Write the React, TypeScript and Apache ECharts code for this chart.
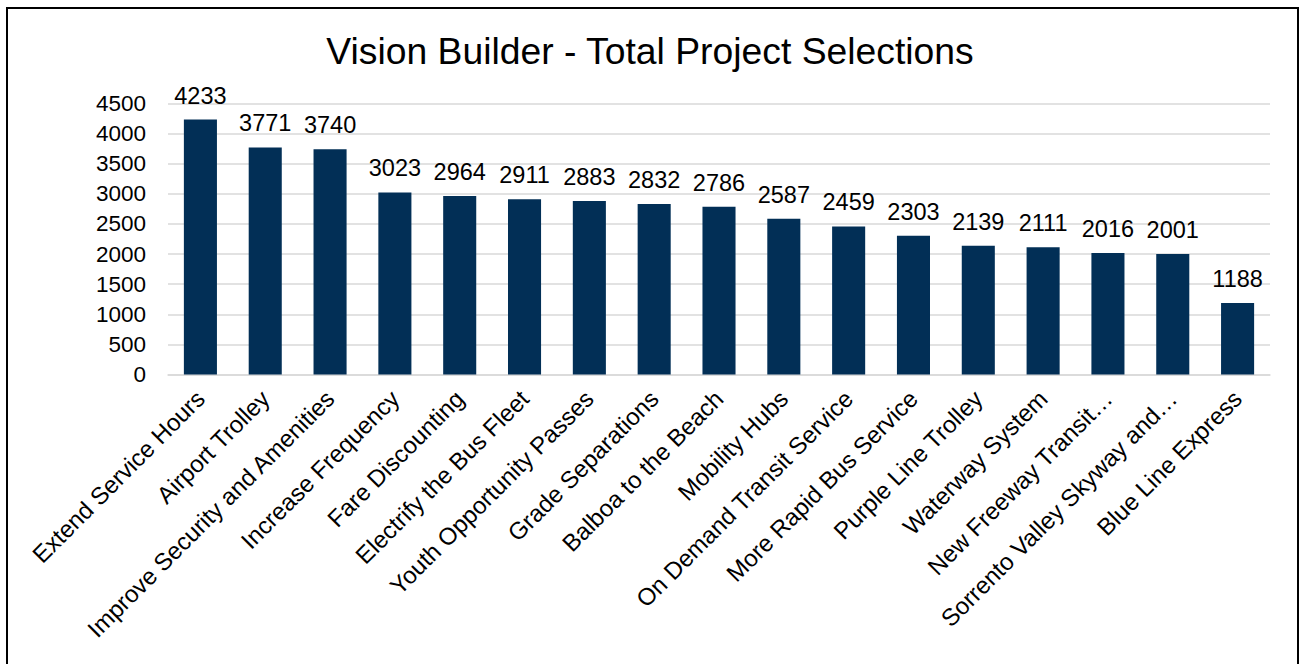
import React, { useEffect, useRef } from "react";
import * as echarts from "echarts";

const categories = [
  "Extend Service Hours",
  "Airport Trolley",
  "Improve Security and Amenities",
  "Increase Frequency",
  "Fare Discounting",
  "Electrify the Bus Fleet",
  "Youth Opportunity Passes",
  "Grade Separations",
  "Balboa to the Beach",
  "Mobility Hubs",
  "On Demand Transit Service",
  "More Rapid Bus Service",
  "Purple Line Trolley",
  "Waterway System",
  "New Freeway Transit…",
  "Sorrento Valley Skyway and…",
  "Blue Line Express",
];

const selections = [4233, 3771, 3740, 3023, 2964, 2911, 2883, 2832, 2786, 2587, 2459, 2303, 2139, 2111, 2016, 2001, 1188];

const yTicks = { min: 0, max: 4500, interval: 500 };

const FONT = "'Liberation Sans', Arial, sans-serif";

export default function App() {
  const ref = useRef<HTMLDivElement>(null);
  useEffect(() => {
    if (!ref.current) return;
    const chart = echarts.init(ref.current, undefined, { renderer: "svg" });
    chart.setOption({
      animation: false,
      backgroundColor: "#ffffff",
      title: {
        text: "Vision Builder - Total Project Selections",
        left: "center",
        top: 27,
        textStyle: { fontFamily: FONT, fontSize: 37.3, fontWeight: "normal", color: "#000000" },
      },
      graphic: [
        {
          type: "rect",
          shape: { x: 7, y: 8, width: 1291, height: 700 },
          style: { fill: "none", stroke: "#000000", lineWidth: 2 },
          silent: true,
        },
      ],
      grid: { left: 168, right: 30, top: 103.5, bottom: 289.5, containLabel: false },
      xAxis: {
        type: "category",
        data: categories,
        axisLine: { lineStyle: { color: "#d9d9d9", width: 1.5 } },
        axisTick: { show: false },
        axisLabel: {
          rotate: 45,
          interval: 0,
          margin: 20,
          fontFamily: FONT,
          fontSize: 24,
          color: "#000000",
        },
      },
      yAxis: {
        type: "value",
        min: yTicks.min,
        max: yTicks.max,
        interval: yTicks.interval,
        axisLine: { show: false },
        axisTick: { show: false },
        splitLine: { lineStyle: { color: "#d9d9d9", width: 1.5 } },
        axisLabel: {
          margin: 22,
          fontFamily: FONT,
          fontSize: 22.5,
          color: "#000000",
          formatter: (v: number) => String(v),
        },
      },
      series: [
        {
          type: "bar",
          data: selections,
          barWidth: "51%",
          itemStyle: { color: "#022f56" },
          label: {
            show: true,
            position: "top",
            distance: 12,
            fontFamily: FONT,
            fontSize: 23.5,
            color: "#000000",
          },
        },
      ],
    });
    return () => chart.dispose();
  }, []);
  return (
    <div
      ref={ref}
      style={{ position: "fixed", left: 0, top: 0, width: 1300, height: 664 }}
    />
  );
}
